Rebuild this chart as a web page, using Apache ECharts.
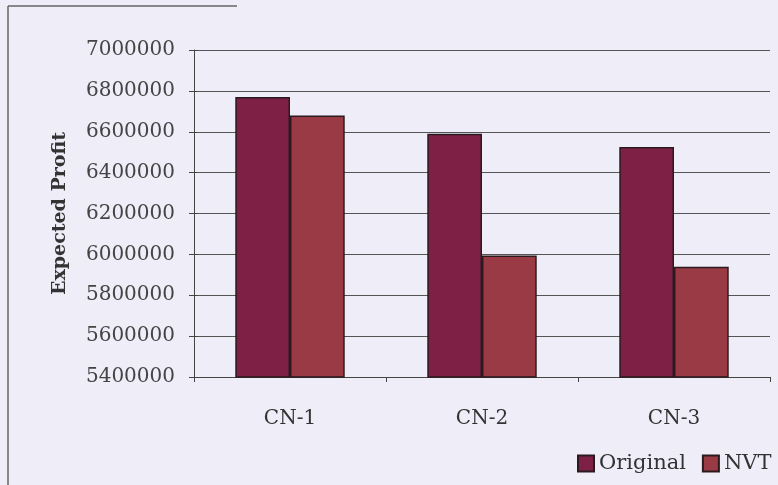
<!DOCTYPE html>
<html>
<head>
<meta charset="utf-8">
<script src="https://cdn.jsdelivr.net/npm/echarts@6/dist/echarts.min.js"></script>
<style>
    html, body { margin: 0; padding: 0; background: #eeedf8; }
    #profit_chart { width: 778px; height: 485px; }
</style>
</head>
<body>
<div id="profit_chart"></div>
<script>
const categories = ["CN-1", "CN-2", "CN-3"];
const originalValues = [6770000, 6590000, 6525000];
const nvtValues = [6680000, 5995000, 5940000];
const yTicks = { min: 5400000, max: 7000000, step: 200000 };

let profitChart;

document.addEventListener("DOMContentLoaded", () => {
    drawProfitChart();
});

const drawProfitChart = () => {
    const chartDom = document.getElementById("profit_chart");
    profitChart = echarts.init(chartDom);

    const font = "DejaVu Serif";
    const barBorder = { borderColor: "#2a1a1e", borderWidth: 1.5 };

    const option = {
        backgroundColor: "#eeedf8",
        animation: false,
        textStyle: { fontFamily: font },
        grid: { left: 194, right: 8, top: 50, bottom: 108 },
        legend: {
            left: 572,
            top: 448,
            itemWidth: 16,
            itemHeight: 16,
            itemGap: 16,
            icon: "rect",
            textStyle: { fontFamily: font, fontSize: 21, color: "#333" },
            data: ["Original", "NVT"]
        },
        xAxis: {
            type: "category",
            data: categories,
            axisLine: { lineStyle: { color: "#444", width: 1 } },
            axisTick: { show: true, length: 5, lineStyle: { color: "#444" } },
            axisLabel: { fontFamily: font, fontSize: 20, color: "#333", margin: 32 }
        },
        yAxis: [
            {
                type: "value",
                min: yTicks.min,
                max: yTicks.max,
                interval: yTicks.step,
                name: "Expected Profit",
                nameLocation: "middle",
                nameRotate: 90,
                nameGap: 124,
                nameTextStyle: { fontFamily: font, fontSize: 19, fontWeight: "bold", color: "#333" },
                axisLine: { show: true, lineStyle: { color: "#444", width: 1 } },
                axisTick: { show: true, length: 5, lineStyle: { color: "#444" } },
                axisLabel: {
                    fontFamily: font, fontSize: 20, color: "#444", margin: 19,
                    formatter: (value) => String(value)
                },
                splitLine: { lineStyle: { color: "#555", width: 1 } }
            },
            {
                // second copy only for the inward half of the cross ticks
                type: "value",
                position: "left",
                min: yTicks.min,
                max: yTicks.max,
                interval: yTicks.step,
                axisLine: { show: false },
                axisTick: { show: true, inside: true, length: 4, lineStyle: { color: "#444" } },
                axisLabel: { show: false },
                splitLine: { show: false }
            }
        ],
        series: [
            {
                name: "Original",
                type: "bar",
                data: originalValues,
                barGap: "0%",
                barCategoryGap: "43%",
                itemStyle: { color: "#7e2046", ...barBorder }
            },
            {
                name: "NVT",
                type: "bar",
                data: nvtValues,
                itemStyle: { color: "#9a3a45", ...barBorder }
            }
        ],
        graphic: [
            { type: "line", shape: { x1: 8, y1: 6, x2: 237, y2: 6 }, style: { stroke: "#666", lineWidth: 1.5 } },
            { type: "line", shape: { x1: 8, y1: 6, x2: 8, y2: 485 }, style: { stroke: "#666", lineWidth: 1.5 } }
        ]
    };

    profitChart.setOption(option);
};
</script>
</body>
</html>
